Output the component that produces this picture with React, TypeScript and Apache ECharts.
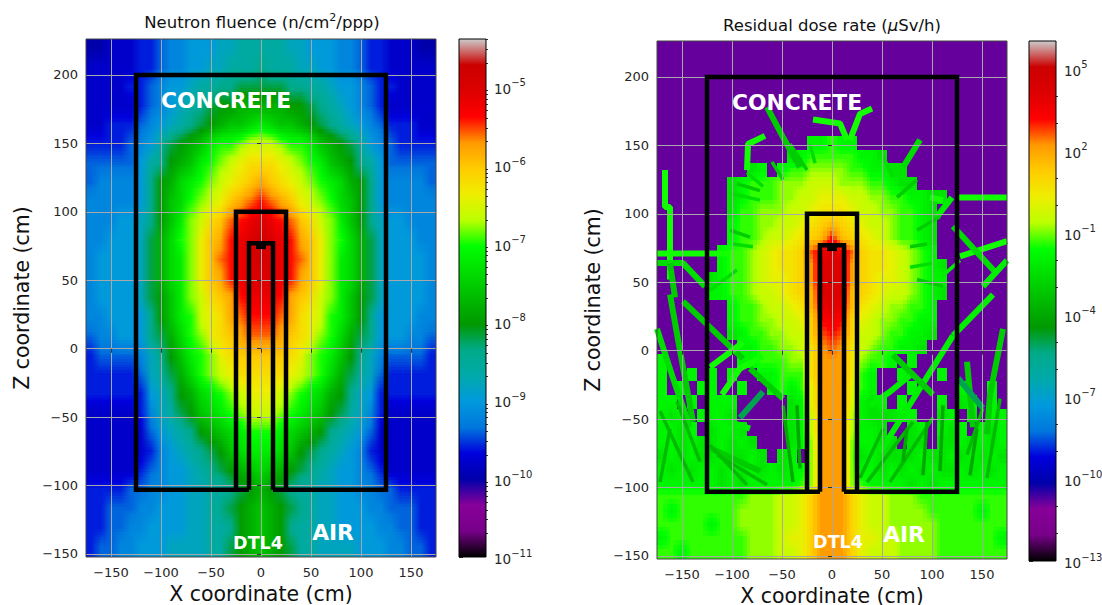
import React, { useEffect, useRef } from "react";
import * as echarts from "echarts";

// nipy_spectral colormap, sampled every 0.05
const cmapRed = [0, .4667, .5333, 0, 0, 0, 0, 0, 0, 0, 0, 0, 0, .7333, .9333, 1, 1, 1, .8667, .8, .8];
const cmapGreen = [0, 0, 0, 0, 0, .4667, .6, .6667, .6667, .6, .7333, .8667, 1, 1, .9333, .8, .6, 0, 0, 0, .8];
const cmapBlue = [0, .5333, .6, .6667, .8667, .8667, .8667, .6667, .5333, 0, 0, 0, 0, 0, 0, 0, 0, 0, 0, 0, .8];

const LEVELS = "0123456789abcdefghijklmnopqrstuvwxyz";

// Neutron fluence: each char is a level, log10 = -11 + 0.2 * index. Columns x=-170..170, rows top to bottom.
const fluenceRows = [
  "5566677899aaabbcc" + "c" + "ccbbaaa9987766655",
  "6666677899aabbccc" + "d" + "cccbbaa9987766666",
  "66667789aabccddee" + "e" + "eeddccbaa98776666",
  "66666789abcdeffgg" + "g" + "ggffedcba98766666",
  "6677789abcdefghhi" + "j" + "ihhgfedcba9877766",
  "777789acefghjkklm" + "m" + "mlkkjhgfeca987777",
  "88888acdfghjklmno" + "o" + "onmlkjhgfdca88888",
  "89999adfgijklmnop" + "q" + "ponmlkjigfda99998",
  "99999adfhiklmnpqr" + "s" + "rqpnmlkihfda99999",
  "999aabdfhjlmoprst" + "u" + "tsrpomljhfdbaa999",
  "99aaabegiklnpqstu" + "v" + "utsqpnlkigebaaa99",
  "9aaaabegijlnprstu" + "v" + "utsrpnljigebaaaa9",
  "9aaaabegijlnpqstu" + "u" + "utsqpnljigebaaaa9",
  "9aaaabefhjlmopqst" + "t" + "tsqpomljhfebaaaa9",
  "99aaaadfhjkmnoqrs" + "s" + "srqonmkjhfdaaaa99",
  "899aaadegiklnopqr" + "r" + "rqponlkigedaaa998",
  "788889bdfhjklnopp" + "p" + "pponlkjhfdb988887",
  "777778bcegiklmnoo" + "o" + "oonmlkigecb877777",
  "777777abdfgijklmn" + "n" + "nmlkjigfdba777777",
  "6666679bcefhijklm" + "m" + "mlkjihfecb9766666",
  "6666668abcdfghijk" + "k" + "kjihgfdcba8666666",
  "66666679abcdefhij" + "j" + "jihfedcba97666666",
  "66666789aabcdefgh" + "i" + "hgfedcbaa98766666",
  "77778899aabbccdef" + "g" + "fedccbbaa99887777",
  "7788899aaabbcdefg" + "h" + "gfedcbbaaa9988877",
  "778899aaaabbccdfg" + "h" + "gfdccbbaaaa998877",
  "78899aaabbbbccefg" + "h" + "gfeccbbbbaaa99887",
];

// Residual dose: each char is a level, log10 = -12.85 + 0.5 * index. Columns x=-170..170, rows top to bottom.
const DOSE_FLOOR = "4";
const doseRows = [
  "44444444444444444444444444444444444",
  "44444444444444444444444444444444444",
  "44444444444444444444444444444444444",
  "44444444444444444444444444444444444",
  "44444444444444444444444444444444444",
  "44444444444444444444444444444444444",
  "44444444444444444444444444444444444",
  "444444444444444mmnmm444444444444444",
  "4444444444444lmnnnnnmml444444444444",
  "444444444lm4mnnoooonnmmll4444444444",
  "4444444lmnnnooopppooonnmll444444444",
  "4444444lmnnnooppqqqppoonnmmll444444",
  "4444444lnnoooppqrrrqppoonnml4444444",
  "4444444mnnooppqrstsrqpponnml4444444",
  "4444444mnnoppqrstwtsrqponnml4444444",
  "444444mnnopqrrsvxyxvsrrqponm4444444",
  "444444mnnopqrrsuyyyusrrqponml444444",
  "44444lmnnopqqrsuyyyusrqqponmm444444",
  "44444mmnnoppqrstyyytsrqpponml444444",
  "4444444mnnoppqrtxyxtrqpoonnm4444444",
  "4444444mnnooppqswxwsqpoonnmm4444444",
  "4444444lmnnooppsvwvsppo" + "nnmml4444444",
  "44444444mmnnoopruvurponnmml44444444",
  "m4444444mmnnnoor" + "uuu" + "ronnm4m4" + "44444444",
  "m44m4" + "m4m44mmnnn" + "ruuur" + "nm44m444m" + "444444",
  "m4m4m" + "m44m44mnmn" + "quuuq" + "nm444m444" + "4m44m4",
  "mm4m4" + "mmm44444lm" + "quuuq" + "mlm4m444m" + "4lm4m4",
  "mlm4m" + "mml44444lm" + "puuup" + "mlllmm44l" + "m4l4mm",
  "mmlm4" + "lmml4444lm" + "puuup" + "mml44lm4m" + "lm4mlm",
  "mmlml" + "lmlml444lm" + "ouuuo" + "mmll4ll4l" + "lmlmlm",
  "lmlml" + "lmllml4lm4" + "ouuuo" + "lmllllmll" + "mlmlml",
  "mlmlm" + "mlmlmlmlmm" + "ouuuo" + "mmlmlmlml" + "lmlmlm",
  "mmmmm" + "mlmlmmmmmn" + "ouuuo" + "nmmmmlmlm" + "mmmmmm",
  "nnnnnnnnnoooppqsu" + "u" + "usqppooonnnnnnnnn",
  "nmnnnnnnooooppqsu" + "u" + "usqppoooonnnnnmnn",
  "nnnnnmnnooooppqsu" + "u" + "usqppooooonnnnnnn",
  "mnnnnnnnnooopqqsu" + "u" + "usqqppoooonnnnnnm",
  "nnmnnnnnnoooppqsu" + "u" + "usqpppoooonnnnnnn",
];

// Thin streaks in the dose map: log10 value, then [x, z] points
const doseStreaks: [number, number[][]][] = [
  [-3, [[-65, 178], [-49, 156], [-32, 134]]],
  [-1.5, [[-19, 169], [8, 166], [15, 154]]],
  [-1.5, [[40, 177], [28, 173], [18, 154]]],
  [-1.5, [[-85, 132], [-84, 151], [-67, 157]]],
  [-2.5, [[88, 154], [71, 134]]],
  [-1.5, [[-167, 132], [-167, 105], [-162, 105], [-162, 52]]],
  [-1.5, [[-175, 71], [-102, 71]]],
  [-1.5, [[126, 112], [175, 112]]],
  [-1.5, [[175, 80], [128, 69]]],
  [-2.5, [[121, 91], [165, 56]]],
  [-2, [[175, 66], [151, 47]]],
  [-2, [[120, 112], [105, 98]]],
  [-1.5, [[98, 112], [111, 110]]],
  [-2.5, [[-175, 64], [-149, 64], [-127, 47]]],
  [-3, [[-162, 64], [-157, 39]]],
  [-2.5, [[-175, 16], [-159, -20], [-142, -56]]],
  [-3, [[-162, 41], [-152, 0], [-139, -52]]],
  [-3, [[-149, 36], [-89, -6]]],
  [-1.5, [[-122, -12], [-89, 6]]],
  [-1.5, [[-110, -32], [-92, -13], [-69, -4]]],
  [-3, [[-82, -13], [-49, -35]]],
  [-5, [[-92, -49], [-69, -30]]],
  [-3, [[-122, -71], [-72, -88]]],
  [-2, [[-102, -52], [-82, -57]]],
  [-2, [[48, -74], [121, 11]]],
  [-2, [[121, 11], [161, 41]]],
  [-3, [[61, -3], [101, -32]]],
  [-2, [[38, -40], [58, -30], [78, -18]]],
  [-3, [[135, -8], [141, -56]]],
  [-3, [[171, 16], [158, -32], [155, -61]]],
  [-5, [[126, -20], [151, -42]]],
];

// Short spikes around the dose blob and the fan of lines near the floor
const doseSpikes: [number, number[][]][] = [
  [-3, [[-42, 151], [-25, 132]]],
  [-2.5, [[-22, 151], [-17, 137]]],
  [-3, [[-60, 138], [-49, 125]]],
  [-2.5, [[51, 142], [61, 127]]],
  [-3, [[85, 125], [65, 112]]],
  [-2.5, [[-102, 115], [-72, 110]]],
  [-3, [[-95, 122], [-72, 117]]],
  [-2.5, [[-85, 130], [-69, 120]]],
  [-3, [[108, 98], [85, 88]]],
  [-3, [[-102, 88], [-82, 83]]],
  [-2.5, [[-99, 78], [-79, 76]]],
  [-3, [[95, 78], [78, 76]]],
  [-2.5, [[101, 64], [78, 61]]],
  [-2.5, [[-122, 44], [-95, 59]]],
  [-3, [[111, 47], [85, 52]]],
  [-2, [[108, 53], [128, 66]]],
  [-3.5, [[-172, -44], [-139, -96]]],
  [-3.5, [[-155, -37], [-132, -81]]],
  [-3.5, [[-122, -69], [-85, -98]]],
  [-3.5, [[-115, -76], [-65, -98]]],
  [-4, [[-49, -40], [-39, -96]]],
  [-4, [[-35, -40], [-32, -86]]],
  [-3.5, [[28, -93], [51, -57]]],
  [-3.5, [[35, -96], [81, -52]]],
  [-3.5, [[58, -96], [101, -49]]],
  [-4, [[71, -81], [75, -57]]],
  [-4, [[91, -91], [95, -52]]],
  [-4, [[108, -88], [111, -40]]],
  [-3.5, [[135, -76], [151, -42]]],
  [-3.5, [[155, -93], [168, -35]]],
  [-4, [[145, -57], [138, -91]]],
  [-3.5, [[-172, -96], [-162, -57]]],
];

// Geometry outlines, in cm
const concreteOutline = [[-12, -103], [-125, -103], [-125, 200], [125, 200], [125, -103], [12, -103]];
const wallOutline = [[-25, -103], [-25, 100], [25, 100], [25, -103]];
const channelOutline = [[-12, -103], [-12, 77], [12, 77], [12, -103]];
const targetOutline = [[-5, 75], [5, 75]];

const xTicks = [-150, -100, -50, 0, 50, 100, 150];
const zTicks = [-150, -100, -50, 0, 50, 100, 150, 200];
const X_RANGE = [-175, 175];
const Z_RANGE = [-152.2, 226.3];

const fluenceBarTicks = [-11, -10, -9, -8, -7, -6, -5];
const doseBarTicks = [-13, -10, -7, -4, -1, 2, 5];
const doseBarMinor = [-12, -11, -9, -8, -6, -5, -3, -2, 0, 1, 3, 4];
const FLUENCE_RANGE = [-11, -4.39];
const DOSE_RANGE = [-13, 6.02];
const DOSE_BASE = -12.85;

const decadeFractions = [2, 3, 4, 5, 6, 7, 8, 9];
const fluenceBarMinor: number[] = [];
fluenceBarTicks.forEach((d) => {
  decadeFractions.forEach((m) => {
    const v = d + Math.log10(m);
    if (v < FLUENCE_RANGE[1]) fluenceBarMinor.push(v);
  });
});

function cmap(t: number): string {
  const p = Math.max(0, Math.min(1, t)) * 20;
  const i = Math.min(19, Math.floor(p));
  const f = p - i;
  const ch = (a: number[]) => Math.round((a[i] + (a[i + 1] - a[i]) * f) * 255);
  return `rgb(${ch(cmapRed)},${ch(cmapGreen)},${ch(cmapBlue)})`;
}

const FONT = "DejaVu Sans";
const TEXT = "#262626";

// Dose cells: one datum per read value. Floor cells are flat; the others are shown with display
// smoothing towards neighbours that are not floor, so the blob keeps its hard, jagged edge.
function doseSeries(rows: string[], base: number, step: number, range: number[], ax: number, ay: number) {
  const table = rows.map((row) => row.split("").map((ch) => base + step * LEVELS.indexOf(ch)));
  const isFloor = (r: number, c: number) => rows[r][c] === DOSE_FLOOR;
  const dz = (Z_RANGE[1] - Z_RANGE[0]) / rows.length;
  const data: number[][] = [];
  rows.forEach((row, r) => {
    for (let c = 0; c < row.length; c++) data.push([-170 + c * 10, Z_RANGE[1] - (r + 0.5) * dz, table[r][c], r, c]);
  });
  const col = (v: number) => cmap((v - range[0]) / (range[1] - range[0]));
  const sub = [-1 / 3, 0, 1 / 3];
  return {
    type: "custom",
    xAxisIndex: ax,
    yAxisIndex: ay,
    z: 1,
    clip: true,
    silent: true,
    data,
    renderItem: (_: any, api: any) => {
      const c = api.coord([api.value(0), api.value(1)]);
      const s = api.size([10, dz]);
      const r0 = api.value(3);
      const c0 = api.value(4);
      const own = api.value(2);
      if (isFloor(r0, c0)) {
        return {
          type: "rect",
          shape: { x: Math.floor(c[0] - s[0] / 2), y: Math.floor(c[1] - s[1] / 2), width: Math.ceil(s[0]) + 1, height: Math.ceil(s[1]) + 1 },
          style: { fill: col(own) },
        };
      }
      const at = (r: number, k: number) => {
        if (r < 0 || r >= rows.length || k < 0 || k >= rows[0].length || isFloor(r, k)) return own;
        return table[r][k];
      };
      const children: any[] = [];
      sub.forEach((v, iv) => {
        sub.forEach((u, iu) => {
          const k1 = c0 + Math.sign(u);
          const r1 = r0 + Math.sign(v);
          const au = Math.abs(u);
          const av = Math.abs(v);
          const val = (own * (1 - au) + at(r0, k1) * au) * (1 - av) + (at(r1, c0) * (1 - au) + at(r1, k1) * au) * av;
          children.push({
            type: "rect",
            shape: {
              x: Math.floor(c[0] - s[0] / 2 + (iu * s[0]) / 3),
              y: Math.floor(c[1] - s[1] / 2 + (iv * s[1]) / 3),
              width: Math.ceil(s[0] / 3) + 1,
              height: Math.ceil(s[1] / 3) + 1,
            },
            style: { fill: col(val) },
          });
        });
      });
      return { type: "group", children };
    },
  };
}

// Image-style drawing of a value table, shown with bilinear display smoothing like imshow
function smoothHeatSeries(rows: string[], base: number, step: number, range: number[], ax: number, ay: number) {
  const table = rows.map((row) => row.split("").map((ch) => base + step * LEVELS.indexOf(ch)));
  const dz = (Z_RANGE[1] - Z_RANGE[0]) / rows.length;
  const strips = 7;
  return {
    type: "custom",
    xAxisIndex: ax,
    yAxisIndex: ay,
    z: 1,
    clip: true,
    silent: true,
    data: rows.map((_r, i) => [0, Z_RANGE[1] - (i + 0.5) * dz, i]),
    renderItem: (_: any, api: any) => {
      const r = api.value(2);
      const left = api.coord([X_RANGE[0], Z_RANGE[1]])[0];
      const right = api.coord([X_RANGE[1], Z_RANGE[1]])[0];
      const top = api.coord([0, Z_RANGE[1] - r * dz])[1];
      const h = api.size([0, dz])[1] / strips;
      const children = [];
      for (let s = 0; s < strips; s++) {
        const v = r + (s + 0.5) / strips - 0.5;
        const r0 = Math.max(0, Math.floor(v));
        const r1 = Math.min(rows.length - 1, Math.floor(v) + 1);
        const w = v - Math.floor(v);
        const stops = table[r0].map((a, c) => ({
          offset: (c * 10 + 5) / 350,
          color: cmap((a + (table[r1][c] - a) * w - range[0]) / (range[1] - range[0])),
        }));
        children.push({
          type: "rect",
          shape: { x: left, y: Math.floor(top + s * h), width: right - left, height: Math.ceil(h) + 1 },
          style: { fill: new echarts.graphic.LinearGradient(0, 0, 1, 0, stops) },
        });
      }
      return { type: "group", children };
    },
  };
}

function barSeries(range: number[], ax: number, ay: number) {
  return {
    type: "custom",
    xAxisIndex: ax,
    yAxisIndex: ay,
    z: 1,
    silent: true,
    data: [[0, range[0], 1, range[1]]],
    renderItem: (_: any, api: any) => {
      const a = api.coord([api.value(0), api.value(3)]);
      const b = api.coord([api.value(2), api.value(1)]);
      const stops = cmapRed.map((_v, i) => ({ offset: 1 - i / 20, color: cmap(i / 20) })).reverse();
      return {
        type: "rect",
        shape: { x: a[0], y: a[1], width: b[0] - a[0], height: b[1] - a[1] },
        style: { fill: new echarts.graphic.LinearGradient(0, 0, 0, 1, stops), stroke: "#000", lineWidth: 1 },
      };
    },
  };
}

function frameSeries(ax: number, ay: number) {
  return {
    type: "custom",
    xAxisIndex: ax,
    yAxisIndex: ay,
    z: 30,
    silent: true,
    clip: false,
    data: [[X_RANGE[0], Z_RANGE[0], X_RANGE[1], Z_RANGE[1]]],
    renderItem: (_: any, api: any) => {
      const a = api.coord([api.value(0), api.value(3)]);
      const b = api.coord([api.value(2), api.value(1)]);
      return {
        type: "rect",
        shape: { x: a[0], y: a[1], width: b[0] - a[0], height: b[1] - a[1] },
        style: { fill: "none", stroke: "#444", lineWidth: 1 },
      };
    },
  };
}

function outlineSeries(pts: number[][], ax: number, ay: number, w = 4.5) {
  return {
    type: "line",
    xAxisIndex: ax,
    yAxisIndex: ay,
    z: 20,
    silent: true,
    symbol: "none",
    data: pts,
    lineStyle: { color: "#000", width: w, join: "miter", cap: "butt" },
  };
}

function streakSeries(list: [number, number[][]][], width: number, ax: number, ay: number) {
  return list.map(([level, pts]) => ({
    type: "line", xAxisIndex: ax, yAxisIndex: ay, z: 2, silent: true, symbol: "none", data: pts,
    lineStyle: { color: cmap((level - DOSE_RANGE[0]) / (DOSE_RANGE[1] - DOSE_RANGE[0])), width, join: "bevel" },
  }));
}

function labelSeries(items: [string, number, number, number][], ax: number, ay: number) {
  return {
    type: "scatter",
    xAxisIndex: ax,
    yAxisIndex: ay,
    z: 25,
    silent: true,
    symbolSize: 0,
    itemStyle: { opacity: 1 },
    data: items.map((t) => ({
      value: [t[1], t[2]],
      label: { show: true, position: "inside", opacity: 1, formatter: t[0], color: "#fff", fontFamily: FONT, fontWeight: "bold", fontSize: t[3] },
    })),
  };
}

function plotAxes(grid: number, xGap: number) {
  const common = {
    gridIndex: grid,
    type: "value",
    z: 10,
    splitLine: { show: true, lineStyle: { color: "#a8a8a8", width: 1 } },
    axisLine: { show: false },
    axisLabel: { color: TEXT, fontFamily: FONT, fontSize: 13, formatter: (v: number) => String(v).replace("-", "\u2212") },
    nameLocation: "middle",
    nameTextStyle: { color: "#111", fontFamily: FONT, fontSize: 20.5 },
  };
  return {
    x: {
      ...common,
      min: X_RANGE[0], max: X_RANGE[1],
      axisLabel: { ...common.axisLabel, customValues: xTicks, margin: 9 },
      axisTick: { show: true, length: 4, lineStyle: { color: "#333" }, customValues: xTicks },
      name: "X coordinate (cm)", nameGap: xGap,
    },
    y: {
      ...common,
      min: Z_RANGE[0], max: Z_RANGE[1],
      axisLabel: { ...common.axisLabel, customValues: zTicks, margin: 8 },
      axisTick: { show: true, length: 4, lineStyle: { color: "#333" }, customValues: zTicks },
      name: "Z coordinate (cm)", nameGap: 54,
    },
  };
}

function barAxes(grid: number, range: number[], major: number[], minor: number[]) {
  const y = { gridIndex: grid, type: "value", min: range[0], max: range[1], position: "right", splitLine: { show: false }, axisLine: { show: false } };
  return {
    x: { gridIndex: grid, type: "value", min: 0, max: 1, show: false },
    major: {
      ...y,
      axisTick: { show: true, length: 4, lineStyle: { color: "#333" }, customValues: major },
      axisLabel: {
        customValues: major,
        margin: 8,
        formatter: (v: number) => `{b|10}{s|${String(Math.round(v)).replace("-", "\u2212")}}`,
        rich: {
          b: { fontFamily: FONT, fontSize: 13.5, color: TEXT, lineHeight: 18, verticalAlign: "bottom" },
          s: { fontFamily: FONT, fontSize: 10, color: TEXT, lineHeight: 18, verticalAlign: "top" },
        },
      },
    },
    minor: {
      ...y,
      axisTick: { show: true, length: 2, lineStyle: { color: "#333" }, customValues: minor },
      axisLabel: { show: false },
    },
  };
}

export default function App() {
  const ref = useRef<HTMLDivElement>(null);
  useEffect(() => {
    const chart = echarts.init(ref.current!, null, { renderer: "svg" });
    const p0 = plotAxes(0, 26);
    const p2 = plotAxes(2, 22);
    const b1 = barAxes(1, FLUENCE_RANGE, fluenceBarTicks, fluenceBarMinor);
    const b3 = barAxes(3, DOSE_RANGE, doseBarTicks, doseBarMinor);
    const outlines = [concreteOutline, wallOutline, channelOutline];
    chart.setOption({
      animation: false,
      backgroundColor: "#fff",
      title: [
        {
          text: "Neutron fluence (n/cm{s|2}/ppp)", left: 257, top: 7, textAlign: "center",
          textStyle: { fontFamily: FONT, fontSize: 16.5, fontWeight: "normal", color: "#111", lineHeight: 20,
            rich: { s: { fontFamily: FONT, fontSize: 11, color: "#111", lineHeight: 20, verticalAlign: "top" } } },
        },
        {
          text: "Residual dose rate ({i|\u03bc}Sv/h)", left: 827, top: 10, textAlign: "center",
          textStyle: { fontFamily: FONT, fontSize: 16.5, fontWeight: "normal", color: "#111", lineHeight: 20,
            rich: { i: { fontFamily: FONT, fontStyle: "italic", fontSize: 16.5, color: "#111" } } },
        },
      ],
      grid: [
        { left: 86, top: 39, width: 350, height: 518, outerBoundsMode: "none" },
        { left: 459, top: 39, width: 27, height: 518, outerBoundsMode: "none" },
        { left: 657, top: 41, width: 350, height: 518, outerBoundsMode: "none" },
        { left: 1029, top: 41, width: 27, height: 520, outerBoundsMode: "none" },
      ],
      xAxis: [p0.x, b1.x, p2.x, b3.x],
      yAxis: [p0.y, b1.major, b1.minor, p2.y, b3.major, b3.minor],
      series: [
        smoothHeatSeries(fluenceRows, -11, 0.2, FLUENCE_RANGE, 0, 0),
        barSeries(FLUENCE_RANGE, 1, 1),
        ...outlines.map((o) => outlineSeries(o, 0, 0)),
        outlineSeries(targetOutline, 0, 0, 6),
        labelSeries([["CONCRETE", -35, 181, 21.8], ["DTL4", -3, -142, 17.5], ["AIR", 72, -134.5, 21.8]], 0, 0),
        frameSeries(0, 0),
        doseSeries(doseRows, DOSE_BASE, 0.5, DOSE_RANGE, 2, 3),
        ...streakSeries(doseStreaks, 6, 2, 3),
        ...streakSeries(doseSpikes, 3.5, 2, 3),
        barSeries(DOSE_RANGE, 3, 4),
        ...outlines.map((o) => outlineSeries(o, 2, 3)),
        outlineSeries(targetOutline, 2, 3, 6),
        labelSeries([["CONCRETE", -35, 181, 21.8], ["DTL4", 6, -140, 17.5], ["AIR", 72, -134.5, 21.8]], 2, 3),
        frameSeries(2, 3),
      ],
    });
    return () => chart.dispose();
  }, []);
  return <div ref={ref} style={{ position: "fixed", left: 0, top: 0, width: 1102, height: 605 }} />;
}
